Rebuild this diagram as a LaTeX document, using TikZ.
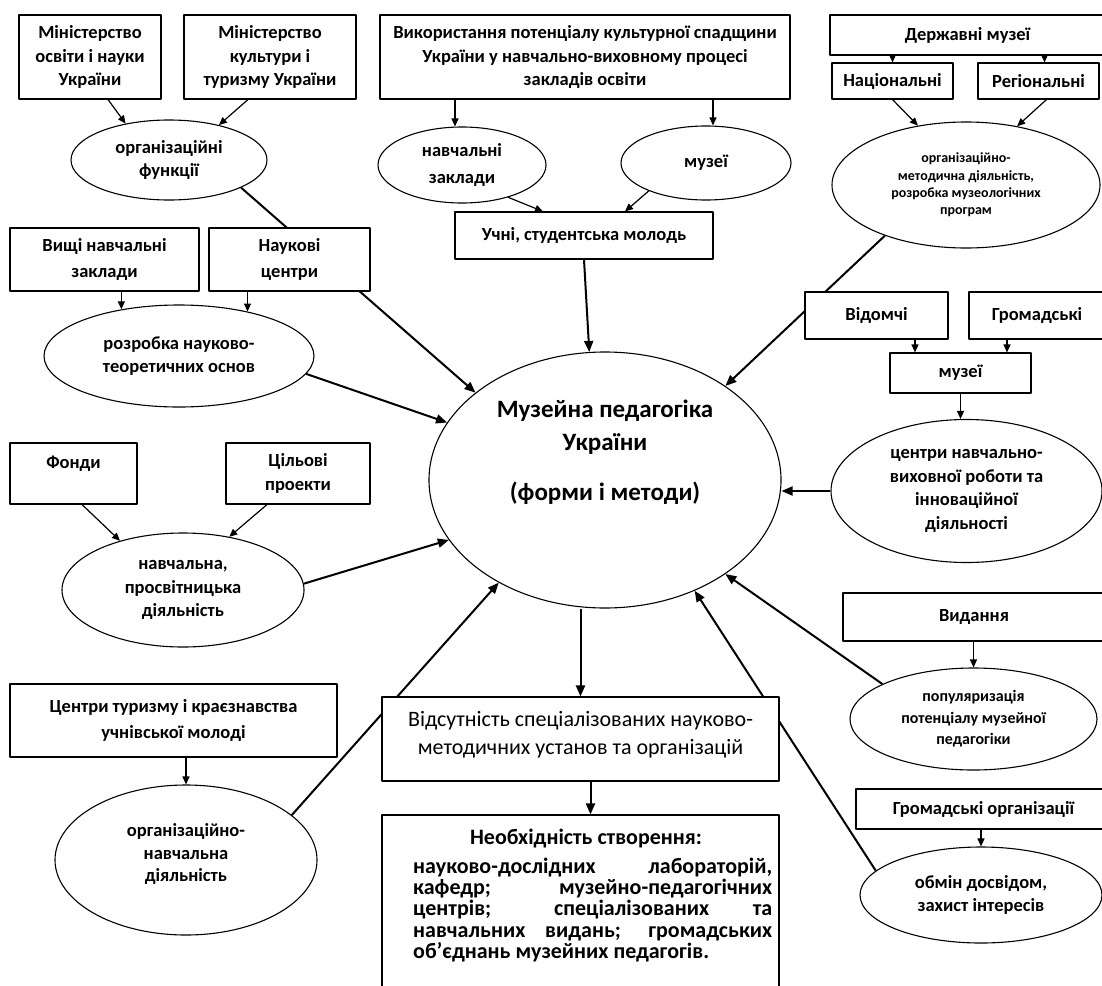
\documentclass[tikz,border=0pt]{standalone}
\usepackage{fontspec}
\setmainfont{Carlito}
\usetikzlibrary{shapes.geometric,arrows.meta,calc}
\pgfdeclarelayer{bg}
\pgfsetlayers{bg,main}
\newcommand{\fsz}[2]{\fontsize{#1}{#2}\selectfont}
\begin{document}
\begin{tikzpicture}[x=1pt,y=-1pt,line join=round,
  box/.style={draw, rectangle, line width=1.1pt, fill=white, inner sep=0pt, align=center, font=\bfseries\fsz{18.5}{23.5}},
  ell/.style={draw, ellipse, line width=1.1pt, fill=white, inner sep=0pt, align=center, font=\bfseries\fsz{18.5}{23.5}},
  wide/.style={font=\bfseries\fsz{18.5}{26.5}},
  para/.style={anchor=base west, inner sep=0pt, font=\bfseries\fsz{22}{21.5}},
  arr/.style={line width=1.2pt, -{Triangle[length=8pt,width=7pt]}},
  big/.style={line width=2pt, -{Triangle[length=11pt,width=9pt]}}]
\useasboundingbox (0,0) rectangle (1102,985);
\begin{scope}
\clip (0,0) rectangle (1102,985);
% top left
\node[box, minimum width=142pt, minimum height=84pt] (m1) at (90,57) {Міністерство\\освіти і науки\\України};
\node[box, minimum width=172pt, minimum height=84pt] (m2) at (270,57) {Міністерство\\культури і\\туризму України};
\node[ell, minimum width=196pt, minimum height=80pt] (orgf) at (169,160) {організаційні\\функції};
\node[box, wide, minimum width=189pt, minimum height=63pt] (vyshchi) at (104.5,259.5) {Вищі навчальні\\заклади};
\node[box, wide, minimum width=161pt, minimum height=63pt] (naukovi) at (289.5,259.5) {Наукові\\центри};
\node[ell, minimum width=270pt, minimum height=102pt] (rozrobka) at (179,356) {розробка науково-\\теоретичних основ};
% top middle
\node[box, minimum width=410pt, minimum height=84pt] (vykor) at (585,57) {Використання потенціалу культурної спадщини\\України у навчально-виховному процесі\\закладів освіти};
\node[ell, wide, minimum width=168pt, minimum height=76pt] (navchz) at (462,165) {навчальні\\заклади};
\node[ell, minimum width=170pt, minimum height=74pt] (muzei1) at (706,163) {музеї};
\node[box, minimum width=258pt, minimum height=47pt] (uchni) at (584,235.5) {Учні, студентська молодь};
% top right
\node[box, minimum width=275pt, minimum height=40pt] (derzh) at (967.5,35) {Державні музеї};
\node[box, minimum width=121pt, minimum height=36pt] (nats) at (892.5,81) {Національні};
\node[box, minimum width=121pt, minimum height=36pt] (reg) at (1038.5,81) {Регіональні};
\node[ell, minimum width=268pt, minimum height=126pt, font=\bfseries\fsz{14}{17.4}] (trell) at (966,185) {організаційно-\\методична діяльність,\\розробка музеологічних\\програм};
\node[box, minimum width=143pt, minimum height=47pt] (vidomchi) at (876.5,315.5) {Відомчі};
\node[box, minimum width=136pt, minimum height=47pt] (grom) at (1037,315.5) {Громадські};
\node[box, minimum width=141pt, minimum height=40pt] (muzei2) at (960.5,373) {музеї};
\node[ell, minimum width=271pt, minimum height=143pt] (centri) at (966.5,491) {центри навчально-\\виховної роботи та\\інноваційної\\діяльності};
% centre
\node[ell, minimum width=352pt, minimum height=256pt] (main) at (605,480) {};
\node[font=\bfseries\fsz{25}{33}, align=center, inner sep=0pt] (maintxt) at (605,452) {Музейна педагогіка\\України\\[17pt](форми і методи)};
% left middle
\node[box, minimum width=127pt, minimum height=61pt] (fondy) at (73.5,473.5) {Фонди\\\mbox{}};
\node[box, minimum width=144pt, minimum height=61pt] (tsilovi) at (298,473.5) {Цільові\\проекти};
\node[ell, minimum width=242pt, minimum height=114pt] (nav) at (183,590) {навчальна,\\просвітницька\\діяльність};
% bottom left
\node[box, wide, minimum width=327pt, minimum height=73pt] (tur) at (173.5,720.5) {Центри туризму і краєзнавства\\учнівської молоді};
\node[ell, font=\bfseries\fsz{18.5}{22.5}, minimum width=262pt, minimum height=150pt] (orgnav) at (186,860) {організаційно-\\навчальна\\діяльність\\[-8pt]\mbox{}};
% bottom middle
\node[box, minimum width=397pt, minimum height=84pt] (vids) at (580.5,739) {};
\node[inner sep=0pt, align=center, font=\fsz{22}{28}] (vidstxt) at (580.5,735) {Відсутність спеціалізованих науково-\\методичних установ та організацій};
\node[box, minimum width=397pt, minimum height=200pt] (neob) at (580.5,915) {};
\node[anchor=base, inner sep=0pt, font=\bfseries\fsz{22}{21.5}] (neobh) at (586,844) {Необхідність створення:};
\node[para] (nl1) at (413,873) {\makebox[359pt][s]{науково-дослідних лабораторій,}};
\node[para] (nl2) at (413,894) {\makebox[359pt][s]{кафедр; музейно-педагогічних}};
\node[para] (nl3) at (413,915) {\makebox[359pt][s]{центрів; спеціалізованих та}};
\node[para] (nl4) at (413,937) {\makebox[359pt][s]{навчальних видань; громадських}};
\node[para] (nl5) at (413,958) {об'єднань музейних педагогів.};
% bottom right
\node[box, minimum width=262pt, minimum height=48pt] (vyd) at (974,617) {Видання};
\node[ell, minimum width=247pt, minimum height=102pt, font=\bfseries\fsz{16}{21.5}] (popul) at (973.5,719) {популяризація\\потенціалу музейної\\педагогіки};
\node[box, minimum width=255pt, minimum height=40pt] (gromorg) at (983.5,809) {Громадські організації};
\node[ell, minimum width=242pt, minimum height=96pt] (obmin) at (981,895) {обмін досвідом,\\захист інтересів};
\end{scope}
\coordinate (r1) at ($(reg.north)+(6,0)$);
\coordinate (v1) at ($(muzei2.north)+(-45.5,0)$);
\coordinate (g1) at ($(muzei2.north)+(46.5,0)$);
\begin{pgfonlayer}{bg}
\fill[white] (0,0) rectangle (1102,985);
% to the centre
\draw[big] (orgf.339) -- (main.146);
\draw[big] (rozrobka.352) -- (main.160);
\draw[big] (uchni.south) -- (main.97);
\draw[big] (trell.212) -- (main.38);
\draw[big] (centri.west) -- (centri.west -| main.east);
\draw[big] (nav.3) -- (main.201);
\draw[big] (orgnav.23) -- (main.224);
\draw[big] (popul.159) -- (main.322);
\draw[big] (obmin.167) -- (main.309);
\draw[big] (main.south -| vids.north) -- (vids.north);
\draw[big] ($(vids.south)+(10,0)$) -- ($(neob.north)+(10,0)$);
% small arrows
\draw[arr] ($(m1.south)+(18,0)$) -- (orgf.140);
\draw[arr] ($(m2.south)+(-22,0)$) -- (orgf.35);
\draw[arr] ($(vykor.south)+(-130,0)$) -- ($(navchz.north)+(-7,0)$);
\draw[arr] ($(vykor.south)+(128,0)$) -- ($(muzei1.north)+(7,0)$);
\draw[arr] (navchz.325) -- ($(uchni.north)+(-41,0)$);
\draw[arr] (muzei1.206) -- ($(uchni.north)+(41,0)$);
\draw[arr] (nats.north |- derzh.south) -- (nats.north);
\draw[arr] (r1 |- derzh.south) -- (r1);
\draw[arr] (nats.south) -- (trell.129);
\draw[arr] ($(reg.south)+(8,0)$) -- (trell.49);
\draw[arr] (vyshchi.south -| rozrobka.141) -- (rozrobka.141);
\draw[arr] (naukovi.south -| rozrobka.33) -- (rozrobka.33);
\draw[arr] (v1 |- vidomchi.south) -- (v1);
\draw[arr] (g1 |- grom.south) -- (g1);
\draw[arr] (muzei2.south) -- (muzei2.south |- centri.north);
\draw[arr] ($(fondy.south)+(8.5,0)$) -- (nav.142);
\draw[arr] ($(tsilovi.south)+(-31,0)$) -- (nav.49);
\draw[arr] (orgnav.north |- tur.south) -- (orgnav.north);
\draw[arr] (popul.north |- vyd.south) -- (popul.north);
\draw[arr] (obmin.north |- gromorg.south) -- (obmin.north);
\end{pgfonlayer}
\end{tikzpicture}
\end{document}
